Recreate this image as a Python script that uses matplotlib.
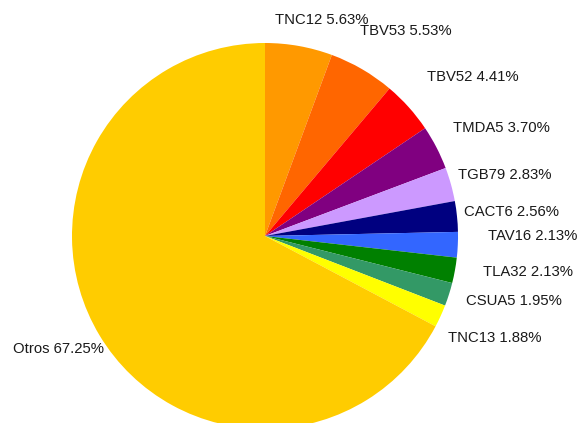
import matplotlib
matplotlib.use("Agg")
import matplotlib.pyplot as plt

plt.rcParams['font.family'] = ['Liberation Sans', 'DejaVu Sans']

# datos
nombres = ["TNC12", "TBV53", "TBV52", "TMDA5", "TGB79", "CACT6",
           "TAV16", "TLA32", "CSUA5", "TNC13", "Otros"]
porcentajes = [5.63, 5.53, 4.41, 3.70, 2.83, 2.56, 2.13, 2.13, 1.95, 1.88, 67.25]
colores = ["#FF9900", "#FF6600", "#FF0000", "#800080", "#CC99FF", "#000080",
           "#3366FF", "#008000", "#339966", "#FFFF00", "#FFCC00"]

# posicion de las etiquetas en pixeles (x, y centro, alineacion)
pos_etiquetas = [(275, 20, 'left'), (360, 31, 'left'), (427, 77, 'left'),
                 (453, 128, 'left'), (458, 175, 'left'), (464, 212, 'left'),
                 (488, 236, 'left'), (483, 272, 'left'), (466, 301, 'left'),
                 (448, 338, 'left'), (104, 349, 'right')]

W, H = 581, 423
fig = plt.figure(figsize=(W / 100, H / 100), dpi=100)
cx, cy, r = 265, 236, 193
ax = fig.add_axes([(cx - r) / W, (H - cy - r) / H, 2 * r / W, 2 * r / H])
ax.pie(porcentajes, colors=colores, startangle=90, counterclock=False,
       radius=1, wedgeprops=dict(linewidth=0))
ax.set_xlim(-1, 1)
ax.set_ylim(-1, 1)
ax.axis('off')

for nom, p, (x, y, ha) in zip(nombres, porcentajes, pos_etiquetas):
    fig.text(x / W, 1 - y / H, f"{nom} {p:.2f}%", ha=ha, va='center',
             fontsize=10.7, color='#1a1a1a')

fig.savefig("out.png", dpi=100)
